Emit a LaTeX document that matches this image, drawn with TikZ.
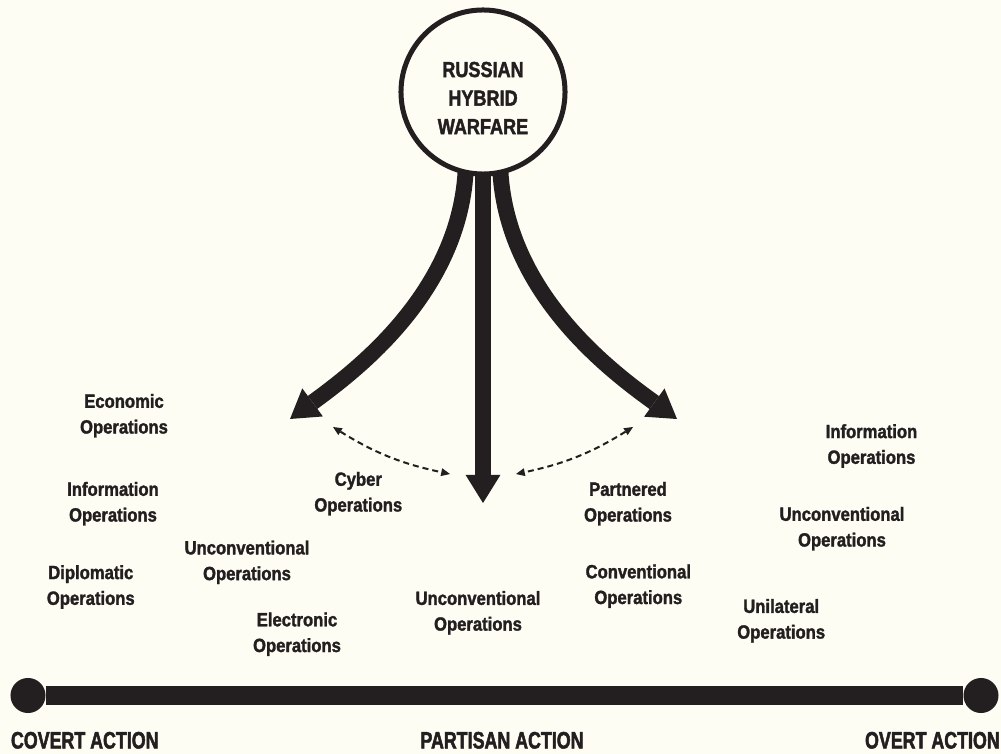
\documentclass[tikz,border=0pt]{standalone}
\usepackage{fontspec}
\usepackage{xcolor}
\usetikzlibrary{arrows.meta,calc,backgrounds}

\newfontfamily\opsfont[FakeStretch=0.87, FakeBold=1.6]{Liberation Sans Bold}
\newfontfamily\hubfont[FakeStretch=0.83, FakeBold=1.8]{Liberation Sans Bold}
\newfontfamily\axisfont[FakeStretch=0.75, FakeBold=2]{Liberation Sans Bold}

\definecolor{ink}{HTML}{231F20}
\definecolor{paper}{HTML}{FDFDF4}

\tikzset{
    hubnode/.style={circle, draw=ink, line width=0.125cm, fill=paper, minimum size=4.1cm, inner sep=0pt},
    hubtext/.style={align=center, inner sep=0pt, text=ink, font=\hubfont\fontsize{15.5}{20.3}\selectfont},
    opslabel/.style={align=center, inner sep=0pt, text=ink, font=\opsfont\fontsize{13.6}{18.3}\selectfont},
    actionlabel/.style={inner sep=0pt, text=ink, font=\axisfont\fontsize{16.9}{22}\selectfont},
    bigarrow/.style={draw=ink, line width=0.4cm, -{Triangle[length=0.7cm,width=0.87cm,line width=0pt]}},
    linkarrow/.style={draw=ink, line width=0.05cm, dash pattern=on 0.15cm off 0.1cm,
        {Triangle[length=0.22cm,width=0.2cm,line width=0pt]}-{Triangle[length=0.22cm,width=0.2cm,line width=0pt]}},
    enddot/.style={circle, fill=ink, minimum size=0.875cm, inner sep=0pt}
}

\begin{document}
\begin{tikzpicture}[x=0.025cm, y=-0.025cm]
\useasboundingbox (0,0) rectangle (1001,754);

% Central circle
\node[hubnode] (hub) at (483,92) {};
\node[hubtext] (hublabel) at (483,98) {RUSSIAN\\HYBRID\\WARFARE};

% Where the three big arrows end
\coordinate (lefttip) at (290,419);
\coordinate (midtip) at (483,503);
\coordinate (righttip) at (677,419);

% Ends of the dashed links
\coordinate (leftlinkA) at (333,427);
\coordinate (leftlinkB) at (450,474);
\coordinate (rightlinkA) at (633,427);
\coordinate (rightlinkB) at (516,474);

\begin{scope}[on background layer]
\fill[paper] (0,0) rectangle (1001,754);
% Big arrows start under the circle
\draw[bigarrow] ($(hub.center)+(-17,68)$) .. controls ($(hub.center)+(-18,198)$) and (354,372) .. (lefttip);
\draw[bigarrow] ($(hub.center)+(0,68)$) -- (midtip);
\draw[bigarrow] ($(hub.center)+(17,68)$) .. controls ($(hub.center)+(18,198)$) and (612,372) .. (righttip);
\end{scope}

% Dashed two-way links
\draw[linkarrow] (leftlinkA) .. controls (374.6,452.9) and (402,463.9) .. (leftlinkB);
\draw[linkarrow] (rightlinkA) .. controls (591.4,452.9) and (564,463.9) .. (rightlinkB);

% Operation labels
\foreach \name/\x/\y/\txt in {
    econ/124/415.7/{Economic\\Operations},
    infoleft/113/503.7/{Information\\Operations},
    diplo/90.8/587/{Diplomatic\\Operations},
    unconvleft/247/562.3/{Unconventional\\Operations},
    elec/297/634.2/{Electronic\\Operations},
    cyber/358.3/493.7/{Cyber\\Operations},
    unconvmid/478/612.8/{Unconventional\\Operations},
    partner/628/503.7/{Partnered\\Operations},
    conv/638.3/586.2/{Conventional\\Operations},
    inforight/871.5/446/{Information\\Operations},
    unconvright/842/528.7/{Unconventional\\Operations},
    unil/781.2/620.8/{Unilateral\\Operations}} {
    \node[opslabel] (\name) at (\x,\y) {\txt};
}

% Spectrum bar
\node[enddot] (covert) at (28,695.5) {};
\node[enddot] (overt) at (981,695.5) {};
\draw[ink, line width=0.45cm] (covert) -- (overt);

\node[actionlabel, anchor=base west] (covertlabel) at (10.7,748.5) {COVERT ACTION};
\node[actionlabel, anchor=base] (partisanlabel) at (502,748.5) {PARTISAN ACTION};
\node[actionlabel, anchor=base east] (overtlabel) at (1000,748.5) {OVERT ACTION};

\end{tikzpicture}
\end{document}
